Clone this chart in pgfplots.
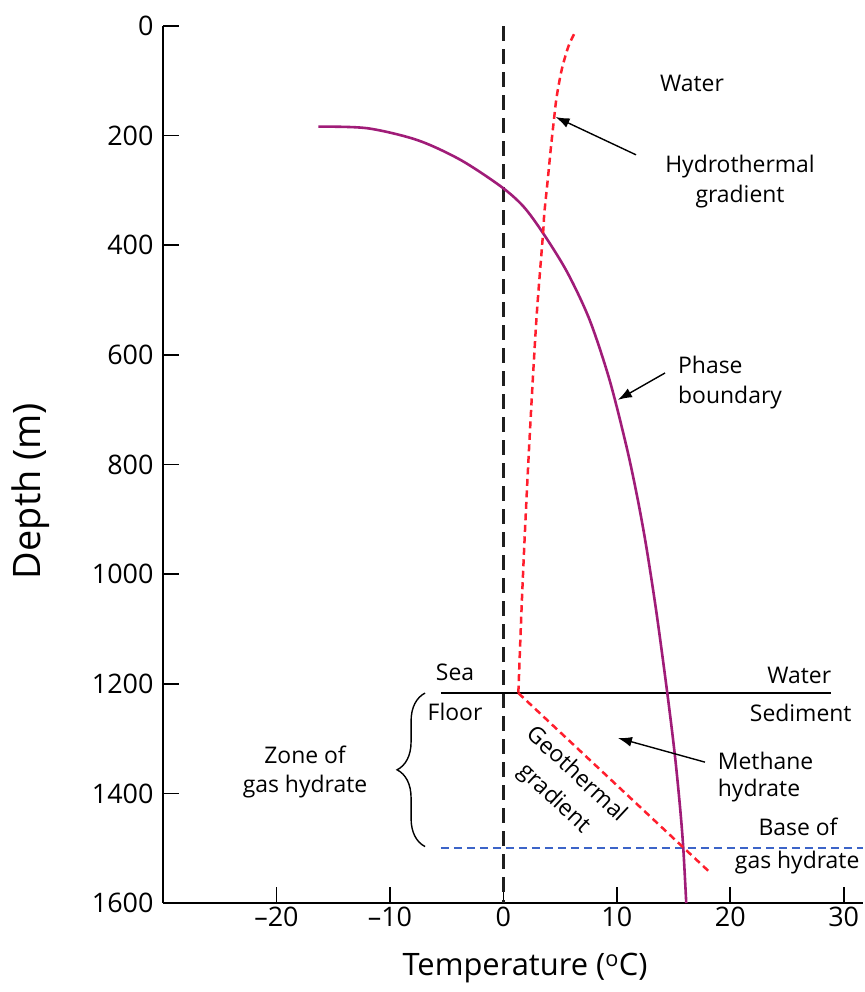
\documentclass[border=0pt]{standalone}
\usepackage{fontspec}
\setmainfont{Open Sans}
\usepackage{pgfplots}
\pgfplotsset{compat=1.18}
\usetikzlibrary{arrows.meta,decorations.pathreplacing,calc}
\definecolor{phase}{RGB}{160,28,120}
\definecolor{hred}{RGB}{255,30,45}
\definecolor{bblue}{RGB}{60,100,200}
\newcommand{\annfont}{\fontsize{23}{30}\selectfont}
\begin{document}
\begin{tikzpicture}
\begin{axis}[
  scale only axis, width=700bp, height=877bp,
  xmin=-30, xmax=31.7, ymin=0, ymax=1600, y dir=reverse,
  axis x line*=bottom, axis y line*=left,
  axis line style={line width=1.6bp, -},
  tick align=inside, major tick length=16bp,
  tick style={line width=1.6bp, black},
  xtick={-20,-10,0,10,20,30}, xticklabels={–20,–10,0,10,20,30},
  ytick={0,200,400,600,800,1000,1200,1400,1600},
  yticklabels={0,200,400,600,800,1000,1200,1400,1600},
  ticklabel style={font=\fontsize{27}{32}\selectfont},
  yticklabel style={xshift=-6bp},
  clip=false,
]
% zero line
\addplot[black!88, line width=2.3bp, dash pattern=on 15bp off 8bp] coordinates {(0,0) (0,1600)};
% sea floor
\addplot[black, line width=1.8bp] coordinates {(-5.5,1217) (28.9,1217)};
% base of gas hydrate
\addplot[bblue, line width=1.8bp, dash pattern=on 8bp off 5bp] coordinates {(-5.5,1500) (31.7,1500)};
% phase boundary
\addplot[phase, line width=2.6bp, smooth] coordinates {
(-16.3,183.6) (-12.0,186.5) (-7.6,208) (-3.8,244) (-0.2,293)
(1.8,330) (3.6,381) (5.65,450) (7.6,536) (9.35,645) (10.85,767) (11.8,859)
(12.6,950) (13.5,1071) (14.45,1217) (15.1,1327) (15.55,1420) (15.85,1497)
(16.12,1600)};
% hydrothermal gradient
\addplot[hred, line width=2.5bp, dash pattern=on 7bp off 4.5bp, smooth] coordinates {
(6.23,15) (5.72,38) (5.14,80) (4.70,129) (4.49,165) (4.20,220) (3.91,281)
(3.61,342) (3.5,378) (2.95,524) (2.5,680) (2.05,858) (1.65,1040) (1.32,1217)};
% geothermal gradient
\addplot[hred, line width=2.5bp, dash pattern=on 7bp off 4.5bp] coordinates {
(1.32,1217) (18.2,1544)};
% annotations
\node[font=\annfont] at (axis cs:16.63,104) {Water};
\node[font=\annfont, align=center] at (axis cs:20.86,283) {Hydrothermal\\gradient};
\draw[line width=1.4bp, -{Latex[length=14bp,width=10bp]}] (axis cs:11.69,235) -- (axis cs:4.6,166);
\node[font=\annfont, align=left, anchor=west] at (axis cs:15.1,650) {Phase\\boundary};
\draw[line width=1.4bp, -{Latex[length=14bp,width=10bp]}] (axis cs:14.25,633) -- (axis cs:10.1,682);
\node[font=\annfont] at (axis cs:-4.26,1180) {Sea};
\node[font=\annfont] at (axis cs:-4.26,1252) {Floor};
\node[font=\annfont, anchor=east] at (axis cs:29.2,1184) {Water};
\node[font=\annfont, anchor=east] at (axis cs:31.0,1253) {Sediment};
\node[font=\fontsize{23}{27}\selectfont, align=left, anchor=west] at (axis cs:18.6,1370) {Methane\\hydrate};
\draw[line width=1.4bp, -{Latex[length=14bp,width=10bp]}] (axis cs:17.77,1343) -- (axis cs:10.1,1299);
\node[font=\annfont] at (axis cs:25.97,1461) {Base of};
\node[font=\annfont] at (axis cs:25.9,1527) {gas hydrate};
\node[font=\fontsize{23}{33}\selectfont, align=center, rotate=-43] at (axis cs:5.43,1388) {Geothermal\\gradient};
\node[font=\annfont, align=center] at (axis cs:-17.48,1361) {Zone of\\gas hydrate};
\draw[line width=1.4bp, decorate, decoration={brace, amplitude=28bp}] (axis cs:-6.9,1497) -- (axis cs:-6.9,1217);
\end{axis}
\node[rotate=90, font=\fontsize{38}{40}\selectfont] at ($(current axis.south west)+(-132bp,412bp)$) {Depth (m)};
\node[font=\fontsize{31}{34}\selectfont] at ($(current axis.south west)+(362bp,-65bp)$) {Temperature (\textsuperscript{o}C)};
\pgfresetboundingbox
\path[use as bounding box] ($(current axis.south west)+(-163bp,-89bp)$) rectangle ($(current axis.north east)+(2bp,26bp)$);
\end{tikzpicture}
\end{document}
